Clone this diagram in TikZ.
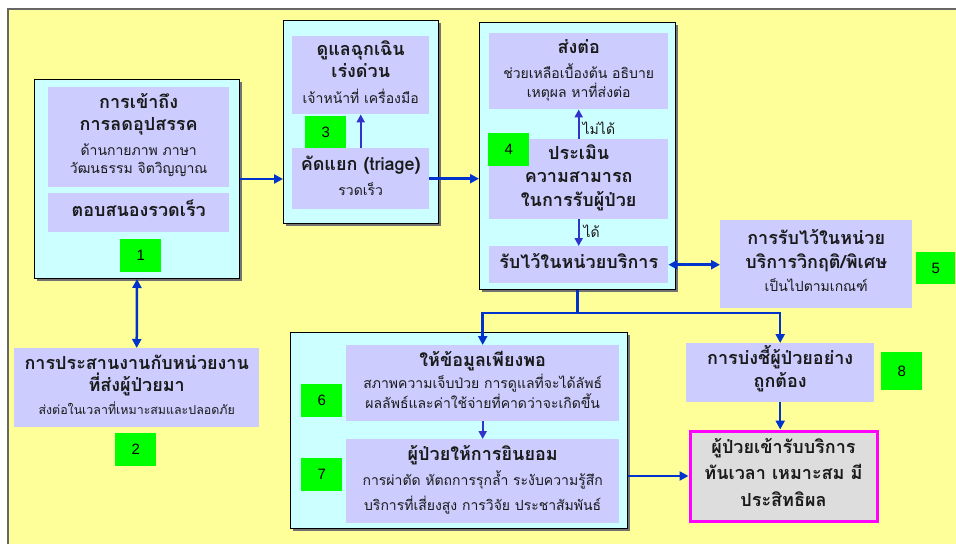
\documentclass[tikz,border=0pt]{standalone}
\usepackage{fontspec}
\newfontfamily\thai[Script=Thai]{Loma}
\newfontfamily\arialf{Liberation Sans}
\usetikzlibrary{arrows.meta,shadows}
\definecolor{slide}{HTML}{FFFF99}
\definecolor{cyanbox}{HTML}{CCFFFF}
\definecolor{lav}{HTML}{CCCCFF}
\definecolor{grn}{HTML}{00FF00}
\definecolor{arr}{HTML}{0033CC}
\definecolor{arrin}{HTML}{3333CC}
\definecolor{mag}{HTML}{FF00FF}
\definecolor{finalfill}{HTML}{DDDDDD}
\definecolor{txt}{HTML}{1A1A1A}
% heading line: height 14, depth 7 ; sub line: height 11, depth 6
\newcommand\hd[1]{\fontsize{18}{0}\selectfont\bfseries\rule[-7pt]{0pt}{21pt}\smash{#1}}
\newcommand\sbt[1]{\fontsize{14}{0}\selectfont\mdseries\rule[-6pt]{0pt}{17pt}\smash{#1}}
\newcommand\sbs[1]{\fontsize{12.4}{0}\selectfont\mdseries\rule[-6pt]{0pt}{17pt}\smash{#1}}
\tikzset{
  base/.style={anchor=north west, inner sep=0pt, align=center,
    font=\thai\fontsize{10}{0}\selectfont, text=txt},
  outerbox/.style={base, fill=cyanbox, draw=black, line width=1pt,
    drop shadow={shadow xshift=2pt, shadow yshift=-2pt, fill=black!55, opacity=1}},
  lavbox/.style={base, fill=lav},
  numbox/.style={anchor=north west, inner sep=0pt, fill=grn, font=\arialf\fontsize{15}{17}\selectfont},
  finalbox/.style={base, fill=finalfill, draw=mag, line width=3pt},
  flow/.style={draw=arr, line width=2.5pt, -{Triangle[length=9pt,width=9pt]}},
  flowplain/.style={draw=arr, line width=2.5pt},
  dflow/.style={draw=arr, line width=2.5pt, {Triangle[length=9pt,width=9pt]}-{Triangle[length=9pt,width=9pt]}},
  inflow/.style={draw=arrin, line width=2pt, -{Triangle[length=8pt,width=8pt]}},
  lbl/.style={inner sep=0pt, font=\thai\fontsize{14}{16}\selectfont, text=txt}
}
\begin{document}
\begin{tikzpicture}[x=1pt,y=-1pt]
\useasboundingbox (0,0) rectangle (956,544);
\fill[white] (0,0) rectangle (956,544);
\fill[slide] (8,9) rectangle (956,544);
\draw[black!60, line width=1.5pt] (8,544) -- (8,9) -- (956,9);

% group 1
\node[outerbox, minimum width=205pt, minimum height=199pt] (box1) at (34,79) {};
\node[lavbox, minimum width=181pt, minimum height=100pt] (in1a) at (48,87)
  {\hd{การเข้าถึง}\\\hd{การลดอุปสรรค}\\[6pt]\sbt{ด้านกายภาพ ภาษา}\\\sbt{วัฒนธรรม จิตวิญญาณ}};
\node[lavbox, minimum width=181pt, minimum height=39pt] (in1b) at (48,193) {\hd{ตอบสนองรวดเร็ว}};
\node[numbox, minimum width=41pt, minimum height=33pt] (g1) at (120,239) {1};

% group 2
\node[lavbox, minimum width=245pt, minimum height=79pt] (box2) at (14,348)
  {\hd{การประสานงานกับหน่วยงาน}\\\hd{ที่ส่งผู้ป่วยมา}\\[4pt]\sbs{ส่งต่อในเวลาที่เหมาะสมและปลอดภัย}};
\node[numbox, minimum width=41pt, minimum height=33pt] (g2) at (115,433) {2};

% group 3
\node[outerbox, minimum width=155pt, minimum height=203pt] (box3) at (283,20) {};
\node[lavbox, minimum width=137pt, minimum height=78pt] (in3a) at (292,36)
  {\hd{ดูแลฉุกเฉิน}\\\hd{เร่งด่วน}\\[7pt]\sbt{เจ้าหน้าที่ เครื่องมือ}};
\node[lavbox, minimum width=137pt, minimum height=61pt] (in3b) at (292,148)
  {\hd{คัดแยก (triage)}\\[6pt]\sbt{รวดเร็ว}};
\node[numbox, minimum width=41pt, minimum height=32pt] (g3) at (305,116) {3};

% group 4
\node[outerbox, minimum width=196pt, minimum height=267pt] (box4) at (479,22) {};
\node[lavbox, minimum width=179pt, minimum height=76pt] (in4a) at (489,33)
  {\hd{ส่งต่อ}\\[6pt]\sbt{ช่วยเหลือเบื้องต้น อธิบาย}\\[1pt]\sbt{เหตุผล หาที่ส่งต่อ}};
\node[lavbox, minimum width=179pt, minimum height=80pt] (in4b) at (489,139)
  {\hd{ประเมิน}\\[1.5pt]\hd{ความสามารถ}\\[1.5pt]\hd{ในการรับผู้ป่วย}};
\node[lavbox, minimum width=179pt, minimum height=37pt] (in4c) at (489,246) {\hd{รับไว้ในหน่วยบริการ}};
\node[numbox, minimum width=41pt, minimum height=33pt] (g4) at (488,133) {4};

% group 5
\node[lavbox, minimum width=192pt, minimum height=88pt] (box5) at (720,220)
  {\hd{การรับไว้ในหน่วย}\\[2pt]\hd{บริการวิกฤติ/พิเศษ}\\[4pt]\sbt{เป็นไปตามเกณฑ์}};
\node[numbox, minimum width=39pt, minimum height=32pt] (g5) at (916,252) {5};

% group 6/7
\node[outerbox, minimum width=337pt, minimum height=196pt] (box67) at (290,332) {};
\node[lavbox, minimum width=273pt, minimum height=76pt] (in6) at (346,345)
  {\hd{ให้ข้อมูลเพียงพอ}\\[3pt]\sbt{สภาพความเจ็บป่วย การดูแลที่จะได้ลัพธ์}\\[2pt]\sbt{ผลลัพธ์และค่าใช้จ่ายที่คาดว่าจะเกิดขึ้น}};
\node[lavbox, minimum width=273pt, minimum height=84pt] (in7) at (346,439)
  {\hd{ผู้ป่วยให้การยินยอม}\\[6pt]\sbt{การผ่าตัด หัตถการรุกล้ำ ระงับความรู้สึก}\\[7pt]\sbt{บริการที่เสี่ยงสูง การวิจัย ประชาสัมพันธ์}};
\node[numbox, minimum width=41pt, minimum height=33pt] (g6) at (301,384) {6};
\node[numbox, minimum width=41pt, minimum height=33pt] (g7) at (301,458) {7};

% group 8
\node[lavbox, minimum width=188pt, minimum height=59pt] (box8) at (686,343)
  {\hd{การบ่งชี้ผู้ป่วยอย่าง}\\[1pt]\hd{ถูกต้อง}};
\node[numbox, minimum width=41pt, minimum height=38pt] (g8) at (881,352) {8};

% final
\node[finalbox, minimum width=187pt, minimum height=90pt] (final) at (688.5,429.5)
  {\hd{ผู้ป่วยเข้ารับบริการ}\\[4.5pt]\hd{ทันเวลา เหมาะสม มี}\\[4.5pt]\hd{ประสิทธิผล}};

% connectors
\draw[dflow] (box1.south) -- (box2.north);
\draw[flow] (box1.east) -- (box1.east -| box3.west);
\draw[inflow] (in3b.north) -- (in3a.south);
\draw[flow] (in3b.east) -- (in3b.east -| box4.west);
\draw[inflow] (in4b.north) -- node[lbl, anchor=west, xshift=3pt, yshift=-4pt] (nolbl) {ไม่ได้} (in4a.south);
\draw[inflow] (in4b.south) -- node[lbl, anchor=west, xshift=4pt, yshift=1pt] (yeslbl) {ได้} (in4c.north);
\draw[dflow] (in4c.east) -- (in4c.east -| box5.west);
\draw[flowplain] (box4.south) -- (box4.south |- 0,313) coordinate (split);
\draw[flow] (split) -| (in6.north);
\draw[flow] (split) -| (box8.north);
\draw[inflow] (in6.south) -- (in7.north);
\draw[flow] (box67.east |- final.west) -- (final.west);
\draw[flow] (box8.south) -- (box8.south |- final.north);
\end{tikzpicture}
\end{document}
